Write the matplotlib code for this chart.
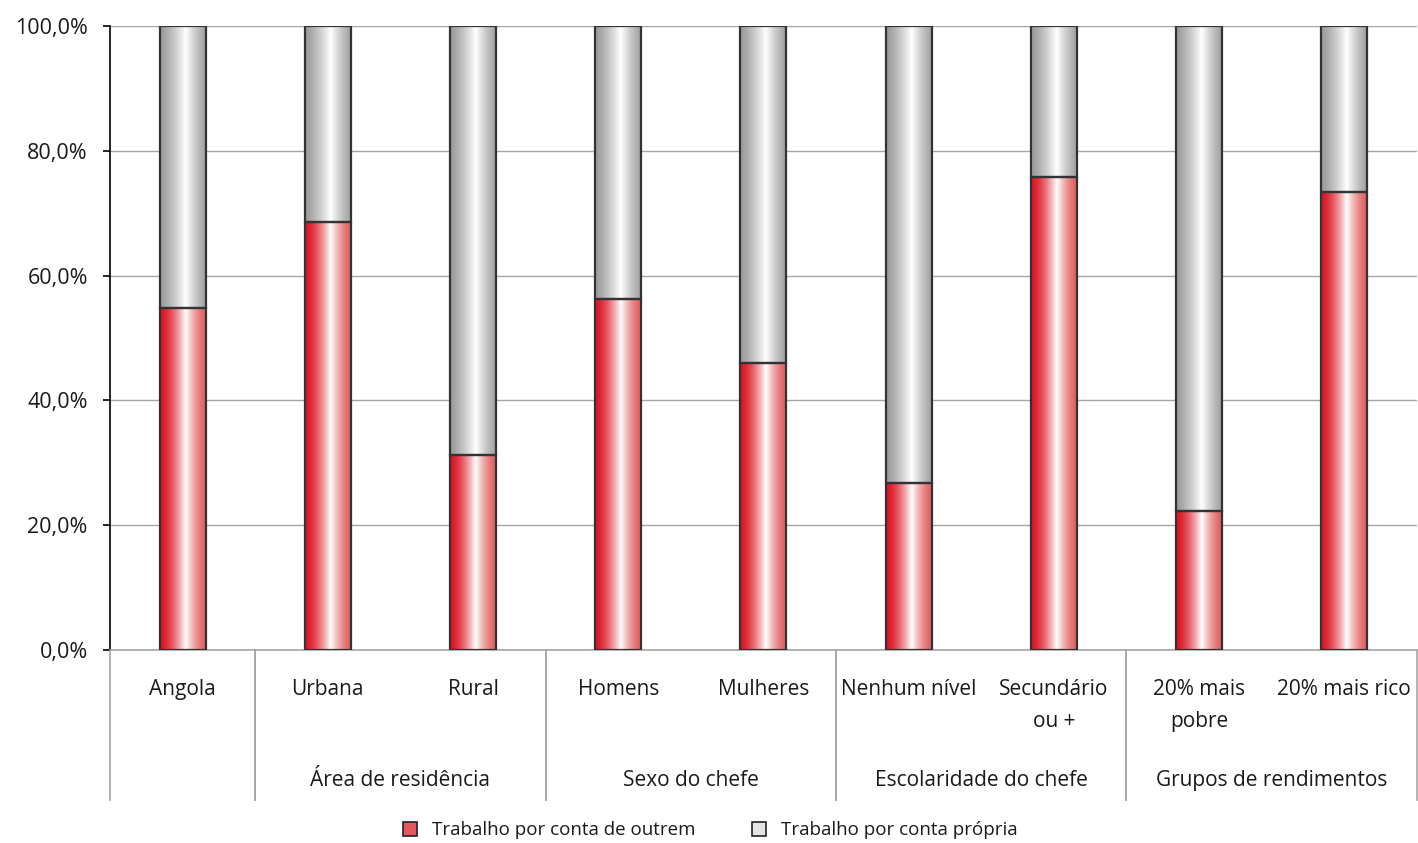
import numpy as np
import matplotlib
matplotlib.use("Agg")
import matplotlib.pyplot as plt
from matplotlib.patches import Rectangle, Patch
from matplotlib.colors import to_rgb
from matplotlib.ticker import FuncFormatter

plt.rcParams['font.family'] = ['Open Sans', 'DejaVu Sans']

# Data
categories = ["Angola", "Urbana", "Rural", "Homens", "Mulheres",
              "Nenhum nível", "Secundário\nou +", "20% mais\npobre", "20% mais rico"]
outrem = [54.8, 68.6, 31.3, 56.3, 46.0, 26.8, 75.8, 22.3, 73.4]
propria = [100 - v for v in outrem]
groups = ["", "Área de residência", "Sexo do chefe", "Escolaridade do chefe", "Grupos de rendimentos"]
group_bounds = [(-0.5, 0.5), (0.5, 2.5), (2.5, 4.5), (4.5, 6.5), (6.5, 8.5)]
legend_labels = ["Trabalho por conta de outrem", "Trabalho por conta própria"]


def gradient(left, right, mid=0.55, n=200, power=1.6):
    # horizontal edge -> white -> edge shading like the Excel bars
    t = np.linspace(0, 1, n)
    f = np.where(t < mid, t / mid, (1 - t) / (1 - mid))
    f = f ** power
    l = np.array(to_rgb(left))
    r = np.array(to_rgb(right))
    edge = np.where((t < mid)[:, None], l, r)
    col = edge + (1 - edge) * f[:, None]
    return col[None, :, :]


red_grad = gradient("#dc1422", "#e0605f")
grey_grad = gradient("#9a9a9a", "#a0a0a0", power=1.3)

fig = plt.figure(figsize=(14.18, 8.43), dpi=100)
ax = fig.add_axes([0.0776, 0.229, 0.9216, 0.740])

x = np.arange(len(categories))
w = 0.317
for xi, a, b in zip(x, outrem, propria):
    ax.imshow(red_grad, extent=[xi - w / 2, xi + w / 2, 0, a], aspect='auto', zorder=2)
    ax.imshow(grey_grad, extent=[xi - w / 2, xi + w / 2, a, a + b], aspect='auto', zorder=2)
    ax.add_patch(Rectangle((xi - w / 2, 0), w, a, fill=False, ec="#333333", lw=1.6, zorder=3))
    ax.add_patch(Rectangle((xi - w / 2, a), w, b, fill=False, ec="#333333", lw=1.6, zorder=3))

ax.set_xlim(-0.5, 8.5)
ax.set_ylim(0, 100)
ax.set_yticks(np.arange(0, 101, 20))
ax.yaxis.set_major_formatter(FuncFormatter(lambda v, p: f"{v:.1f}%".replace(".", ",")))
ax.tick_params(axis='y', length=5, width=1.2, color="black", labelsize=15.5, pad=11,
               labelcolor="#1a1a1a")
ax.set_xticks([])
ax.grid(axis='y', color="#a6a6a6", lw=1, zorder=0)
for s in ["top", "right"]:
    ax.spines[s].set_visible(False)
ax.spines["left"].set_color("black")
ax.spines["left"].set_linewidth(1.2)
ax.spines["bottom"].set_color("#a6a6a6")
ax.spines["bottom"].set_linewidth(1.2)
ax.axhline(100, color="#a6a6a6", lw=1.2, zorder=1)

# category labels (multi-line ones split by hand)
for xi, lab in zip(x, categories):
    for k, line in enumerate(lab.split("\n")):
        ax.text(xi, -6.4 - k * 5.0, line, ha='center', va='center', fontsize=15,
                color="#1a1a1a", clip_on=False)

# group separators and group labels
for (lo, hi), g in zip(group_bounds, groups):
    for edge in (lo, hi):
        ax.plot([edge, edge], [0, -24], color="#a6a6a6", lw=1.2, clip_on=False)
    if g:
        ax.text((lo + hi) / 2, -20.9, g, ha='center', va='center', fontsize=15,
                color="#1a1a1a", clip_on=False)

handles = [Patch(facecolor="#e65560", edgecolor="#222222", lw=1.2),
           Patch(facecolor="#e4e4e4", edgecolor="#222222", lw=1.2)]
fig.legend(handles, legend_labels, loc='center', bbox_to_anchor=(0.501, 0.015), ncol=2,
           frameon=False, fontsize=13.5, handlelength=0.75, handleheight=0.75,
           columnspacing=3.0, handletextpad=0.8, labelcolor="#1a1a1a")

fig.savefig("out.png", dpi=100)
